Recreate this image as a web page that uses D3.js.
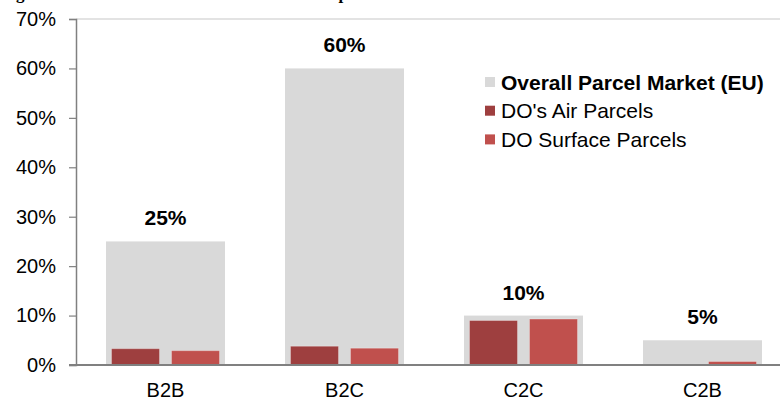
<!DOCTYPE html>
<html>
<head>
<meta charset="utf-8">
<script src="https://cdn.jsdelivr.net/npm/d3@7"></script>
<style>
  html, body { margin: 0; padding: 0; background: #fff; }
  svg { display: block; }
</style>
</head>
<body>
<svg id="chart" width="780" height="401"></svg>
<script>
// Parcel market segments
const categories = ["B2B", "B2C", "C2C", "C2B"];
// Share of the overall EU parcel market, per segment
const overallMarket = [0.25, 0.60, 0.10, 0.05];
// DO shares, air and surface parcels
const airParcels = [0.033, 0.038, 0.090, 0.0];
const surfaceParcels = [0.029, 0.034, 0.093, 0.007];
const yTicks = [0, 0.1, 0.2, 0.3, 0.4, 0.5, 0.6, 0.7];
const seriesNames = ["Overall Parcel Market (EU)", "DO's Air Parcels", "DO Surface Parcels"];
const titleText = "Figure 4: Market share of each sector and DO parcels sent under the UPU Terminal Dues";

const colors = { overall: "#d9d9d9", air: "#9e3f3f", surface: "#c0504d" };
const sans = "'Liberation Sans', Arial, sans-serif";

const svg = d3.select("#chart");

const x = d3.scaleBand().domain(categories).range([76, 792]).paddingInner(0).paddingOuter(0);
const y = d3.scaleLinear().domain([0, 0.7]).range([365, 19]);

// Title (runs off the top edge)
svg.append("text")
  .attr("x", 1).attr("y", -1)
  .attr("font-family", "'Liberation Serif', 'Times New Roman', serif")
  .attr("font-weight", "bold")
  .attr("font-size", 17)
  .attr("fill", "#000")
  .text(titleText);

// Plot area top border
svg.append("line")
  .attr("x1", 76).attr("x2", 780)
  .attr("y1", y(0.7)).attr("y2", y(0.7))
  .attr("stroke", "#c8c8c8").attr("stroke-width", 1.2);

// Overall market bars
const bigW = x.bandwidth() * 0.665;
svg.append("g").selectAll("rect")
  .data(categories)
  .join("rect")
  .attr("x", (d) => x(d) + x.bandwidth() / 2 - bigW / 2)
  .attr("width", bigW)
  .attr("y", (d, i) => y(overallMarket[i]))
  .attr("height", (d, i) => y(0) - y(overallMarket[i]))
  .attr("fill", colors.overall);

// DO bars
const smallW = 48, offset = 30;
function drawSeries(values, color, dx) {
  svg.append("g").selectAll("rect")
    .data(categories)
    .join("rect")
    .attr("x", (d) => x(d) + x.bandwidth() / 2 + dx - smallW / 2)
    .attr("width", smallW)
    .attr("y", (d, i) => y(values[i]))
    .attr("height", (d, i) => y(0) - y(values[i]))
    .attr("fill", color)
    .attr("stroke", (d, i) => values[i] > 0 ? "rgba(255,255,255,0.3)" : "none")
    .attr("stroke-width", 1);
}
drawSeries(airParcels, colors.air, -offset);
drawSeries(surfaceParcels, colors.surface, offset);

// Value labels on overall bars
svg.append("g").selectAll("text")
  .data(categories)
  .join("text")
  .attr("x", (d) => x(d) + x.bandwidth() / 2)
  .attr("y", (d, i) => y(overallMarket[i]) - 16)
  .attr("text-anchor", "middle")
  .attr("font-family", sans)
  .attr("font-weight", "bold")
  .attr("font-size", 21)
  .attr("fill", "#000")
  .text((d, i) => d3.format(".0%")(overallMarket[i]));

// Y axis
const yAxis = svg.append("g")
  .attr("transform", "translate(76,0)")
  .call(d3.axisLeft(y).tickValues(yTicks).tickFormat(d3.format(".0%")).tickSize(7).tickPadding(13));
yAxis.select(".domain").attr("stroke", "#808080").attr("stroke-width", 1.5);
yAxis.selectAll(".tick line").attr("stroke", "#808080").attr("stroke-width", 1.2);
yAxis.selectAll(".tick text")
  .attr("font-family", sans)
  .attr("font-size", 20)
  .attr("fill", "#000");

// X axis
const xAxis = svg.append("g")
  .attr("transform", `translate(0,${y(0)})`)
  .call(d3.axisBottom(x).tickSize(0).tickPadding(18));
xAxis.select(".domain").remove();
svg.append("line")
  .attr("x1", 69).attr("x2", 780)
  .attr("y1", y(0)).attr("y2", y(0))
  .attr("stroke", "#808080").attr("stroke-width", 2);
xAxis.selectAll(".tick text")
  .attr("font-family", sans)
  .attr("font-size", 20)
  .attr("fill", "#000");

// Legend
const legendColors = [colors.overall, colors.air, colors.surface];
const legend = svg.append("g").attr("transform", "translate(485,82)");
seriesNames.forEach((name, i) => {
  const row = legend.append("g").attr("transform", `translate(0,${i * 28.7})`);
  row.append("rect")
    .attr("x", 0).attr("y", -5).attr("width", 10).attr("height", 10)
    .attr("fill", legendColors[i]);
  row.append("text")
    .attr("x", 16).attr("y", 7.5)
    .attr("font-family", sans)
    .attr("font-size", 21)
    .attr("font-weight", i === 0 ? "bold" : "normal")
    .attr("fill", "#000")
    .text(name);
});
</script>
</body>
</html>
